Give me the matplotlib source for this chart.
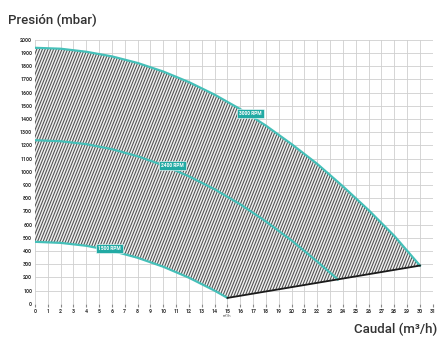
import numpy as np
import matplotlib
matplotlib.use("Agg")
import matplotlib.pyplot as plt
from matplotlib.patches import Polygon
from matplotlib.collections import LineCollection

plt.rcParams['font.family'] = ['Roboto', 'DejaVu Sans']

# Pump curves (flow m3/h, pressure mbar)
x3000 = [0, 2, 4, 6, 8, 10, 12, 14, 16, 18, 20, 22, 24, 26, 28, 30]
y3000 = [1940, 1933, 1910, 1875, 1825, 1760, 1680, 1585, 1475, 1350, 1210, 1060, 890, 710, 515, 290]
x2400 = [0, 2, 4, 6, 8, 10, 12, 14, 16, 18, 20, 22, 23.6]
y2400 = [1240, 1232, 1210, 1172, 1118, 1050, 966, 868, 754, 624, 480, 320, 185]
x1500 = [0, 2, 4, 6, 8, 10, 12, 14, 15]
y1500 = [470, 462, 440, 402, 349, 281, 198, 100, 45]
x_limit = [15, 30]
y_limit = [45, 290]
labels = ["3000 RPM", "2400 RPM", "1500 RPM"]
label_pos = [(16.8, 1440), (10.7, 1050), (5.8, 420)]
x_ticks = list(range(0, 32))
y_ticks = list(range(0, 2001, 100))

teal = '#45c0b9'
box = '#22aaa4'

fig = plt.figure(figsize=(4.43, 3.38), dpi=100)
ax = fig.add_axes([0.079, 0.101, 0.898, 0.781])
ax.set_xlim(0, 31)
ax.set_ylim(0, 2000)

# grid
ax.set_xticks(x_ticks)
ax.set_yticks(y_ticks)
ax.grid(True, color='#cfcfcf', linewidth=0.6)
ax.set_axisbelow(True)
for s in ax.spines.values():
    s.set_visible(False)
ax.tick_params(axis='both', labelsize=3.8, colors='#333333', length=0, pad=2)
ax.tick_params(axis='x', length=2, color='#888888', pad=2)
for t in ax.get_xticklabels() + ax.get_yticklabels():
    t.set_fontweight('bold')

# operating envelope polygon
top_x = np.array(x3000, float)
top_y = np.array(y3000, float)
low_x = np.concatenate([x1500, x_limit[1:]])
low_y = np.concatenate([y1500, y_limit[1:]])
px = np.concatenate([top_x, low_x[::-1]])
py = np.concatenate([top_y, low_y[::-1]])
poly = Polygon(np.column_stack([px, py]), closed=True, facecolor='#f2f2f2',
               edgecolor='none', zorder=1)
ax.add_patch(poly)

# steep hatch lines in axes-fraction coords, clipped to the envelope
W = 0.898 * 443
H = 0.781 * 338
spacing_px = 2.8
dx_top = (H / np.tan(np.radians(68))) / W
n = int((1 + dx_top) * W / spacing_px) + 2
starts = np.arange(n) * spacing_px / W - dx_top
segs = [[(s, 0), (s + dx_top, 1)] for s in starts]
lc = LineCollection(segs, colors='#555555', linewidths=0.8,
                    transform=ax.transAxes, zorder=2)
lc.set_clip_path(poly)
ax.add_collection(lc)

# curves
ax.plot(x3000, y3000, color=teal, lw=1.6, zorder=3)
ax.plot(x2400, y2400, color=teal, lw=1.6, zorder=3)
ax.plot(x1500, y1500, color=teal, lw=1.6, zorder=3)
ax.plot(x_limit, y_limit, color='#1a1a1a', lw=1.3, zorder=3)

for lab, (lx, ly) in zip(labels, label_pos):
    ax.text(lx, ly, lab, fontsize=3.5, color='white', ha='center', va='center',
            zorder=5, fontweight='bold',
            bbox=dict(boxstyle='square,pad=0.45', fc=box, ec='white', lw=0.4))

ax.text(15, -95, "m³/h", fontsize=2.8, color='#444444', ha='center', va='center')

fig.text(8 / 443, 1 - 20 / 338, "Presión (mbar)", fontsize=9.5, color='#333333',
         ha='left', va='center', fontweight='medium')
fig.text(437 / 443, 1 - 329 / 338, "Caudal (m³/h)", fontsize=9.5, color='#333333',
         ha='right', va='center', fontweight='medium')

fig.savefig('out.png', dpi=100)
